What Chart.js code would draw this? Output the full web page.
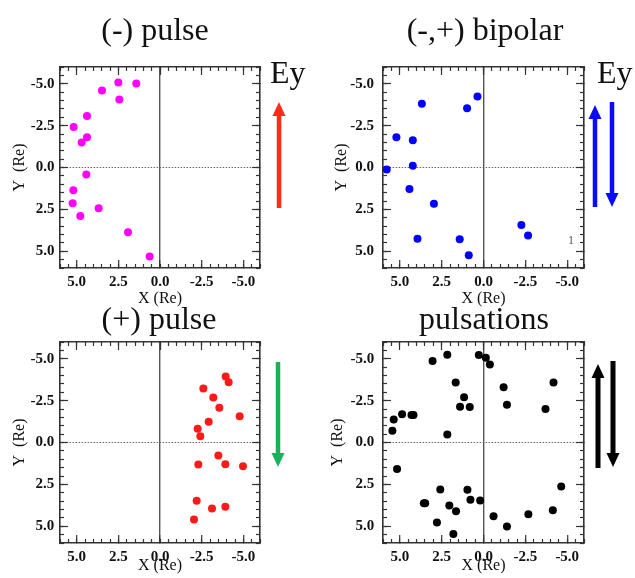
<!DOCTYPE html>
<html>
<head>
<meta charset="utf-8">
<script src="https://cdn.jsdelivr.net/npm/chart.js@4.4.0/dist/chart.umd.min.js"></script>
<style>
  body { margin: 0; background: #fff; }
  #wrap { position: relative; width: 635px; height: 578px; overflow: hidden; font-family: 'Liberation Serif', 'DejaVu Serif', serif; color: #111; }
  canvas { position: absolute; }
  .title { position: absolute; width: 300px; text-align: center; font-size: 32px; line-height: 32px; white-space: nowrap; }
  .ey { position: absolute; font-size: 32px; line-height: 32px; }
  .note { position: absolute; font-size: 12px; line-height: 12px; color: #555; }
</style>
</head>
<body>
<div id="wrap">
  <canvas id="negPulse" width="317" height="312" style="left:0;top:0"></canvas>
  <canvas id="bipolar" width="317" height="312" style="left:318px;top:0"></canvas>
  <canvas id="posPulse" width="317" height="289" style="left:0;top:289px"></canvas>
  <canvas id="pulsations" width="317" height="289" style="left:318px;top:289px"></canvas>

  <div class="title" style="left:5px;top:13px">(-) pulse</div>
  <div class="title" style="left:335px;top:13px">(-,+) bipolar</div>
  <div class="title" style="left:9px;top:302px">(+) pulse</div>
  <div class="title" style="left:334px;top:302px">pulsations</div>
  <div class="ey" style="left:270px;top:56px">Ey</div>
  <div class="ey" style="left:597px;top:56px">Ey</div>
  <div class="note" style="left:568px;top:234px">1</div>
</div>

<script>
// axis ticks (X runs 5 -> -5 left to right, Y runs -5 -> 5 top to bottom)
const xTickValues = [5.0, 2.5, 0.0, -2.5, -5.0];
const yTickValues = [-5.0, -2.5, 0.0, 2.5, 5.0];

// (-) pulse
const negPulseX = [2.5, 1.42, 3.48, 2.44, 4.38, 5.18, 4.38, 4.7, 4.42, 5.2, 5.24, 3.68, 4.78, 1.92, 0.62];
const negPulseY = [-5.08, -5.02, -4.6, -4.06, -3.08, -2.42, -1.8, -1.5, 0.42, 1.36, 2.14, 2.44, 2.9, 3.86, 5.32];

// (-,+) bipolar
const bipolarX = [0.36, 0.98, 3.68, 5.2, 4.22, 4.22, 5.78, 4.42, 2.96, 3.94, 1.42, 0.88, -2.26, -2.66];
const bipolarY = [-4.24, -3.54, -3.8, -1.8, -1.62, -0.1, 0.12, 1.28, 2.16, 4.26, 4.28, 5.24, 3.44, 4.06];

// (+) pulse
const posPulseX = [-3.94, -4.12, -2.6, -3.2, -3.56, -4.78, -2.92, -2.26, -2.42, -3.5, -3.92, -4.98, -2.3, -2.2, -3.12, -3.92, -2.04];
const posPulseY = [-3.94, -3.6, -3.22, -2.68, -2.08, -1.56, -1.24, -0.82, -0.38, 0.78, 1.3, 1.42, 1.32, 3.48, 3.94, 3.84, 4.6];

// pulsations
const pulsX = [3.04, 2.16, 0.28, -0.14, -0.38, 1.66, -1.2, -4.18, 1.16, 1.4, 0.82, -1.4, -3.7, 4.86, 5.36, 4.3, 4.18, 5.44, 2.16, 5.16,
               2.58, 0.96, 3.56, 3.48, 2.04, 0.78, 0.2, 1.64, 2.78, 1.8, -0.6, -1.4, -2.68, -4.14, -4.64];
const pulsY = [-4.86, -5.24, -5.22, -5.06, -4.66, -3.58, -3.3, -3.58, -2.7, -2.14, -2.12, -2.26, -2.0, -1.68, -1.38, -1.64, -1.64, -0.7, -0.48, 1.58,
               2.8, 2.82, 3.62, 3.62, 3.76, 3.42, 3.46, 4.1, 4.78, 5.46, 4.4, 5.02, 4.28, 4.04, 2.62];

const SERIF = "'Liberation Serif', 'DejaVu Serif', serif";
const INK = '#333';

function setTicks(values) {
  return scale => { scale.ticks = values.map(v => ({ value: v })); };
}

function buildScales(g) {
  const base = { type: 'linear', min: -6, max: 6, reverse: true };
  const labelFont = { family: SERIF, size: 15, weight: 'bold' };
  const titleFont = { family: SERIF, size: 16, lineHeight: 1.2 };
  const majorGrid = { drawOnChartArea: false, tickLength: -8, tickColor: INK, tickWidth: 1.2 };
  const minorGrid = { drawOnChartArea: false, tickLength: -4, tickColor: INK, tickWidth: 1.2 };
  const frame = { color: INK, width: 1.6 };
  const hidden = { display: false };
  const isZero = c => c.tick && c.tick.value === 0;

  return {
    x: {
      ...base, position: 'bottom', weight: 1,
      afterBuildTicks: setTicks(xTickValues),
      afterFit: s => { s.height = g.xh; },
      grid: { drawOnChartArea: true, color: c => isZero(c) ? '#555' : 'rgba(0,0,0,0)', lineWidth: 1.4,
              tickLength: -8, tickColor: INK, tickWidth: 1.2 },
      border: frame,
      ticks: { font: labelFont, color: '#111', padding: g.xlp, autoSkip: false, maxRotation: 0,
               callback: v => v.toFixed(1) },
      title: { display: true, text: 'X (Re)', font: titleFont, color: '#111', padding: { top: 0, bottom: g.xtp } }
    },
    xMinor: { ...base, position: 'bottom', weight: 0, afterFit: s => { s.height = 0; },
              ticks: { display: false, stepSize: 0.5 }, grid: minorGrid, border: hidden },
    xTop: { ...base, position: 'top', weight: 0, afterBuildTicks: setTicks(xTickValues), afterFit: s => { s.height = 0; },
            ticks: { display: false }, grid: majorGrid, border: frame },
    xTopMinor: { ...base, position: 'top', weight: 1, afterFit: s => { s.height = 0; },
                 ticks: { display: false, stepSize: 0.5 }, grid: minorGrid, border: hidden },
    y: {
      ...base, position: 'left', weight: 1,
      afterBuildTicks: setTicks(yTickValues),
      afterFit: s => { s.width = g.yw; },
      grid: { drawOnChartArea: true, color: c => isZero(c) ? '#666' : 'rgba(0,0,0,0)', lineWidth: 1,
              tickLength: -8, tickColor: INK, tickWidth: 1.2 },
      border: { color: INK, width: 1.6, dash: [1.5, 1.5] },
      ticks: { font: labelFont, color: '#111', padding: g.ylp, autoSkip: false,
               callback: v => v.toFixed(1) },
      title: { display: true, text: 'Y  (Re)', font: titleFont, color: '#111', padding: { top: g.ytp, bottom: 0 } }
    },
    yMinor: { ...base, position: 'left', weight: 0, afterFit: s => { s.width = 0; },
              ticks: { display: false, stepSize: 0.5 }, grid: minorGrid, border: hidden },
    yRight: { ...base, position: 'right', weight: 0, afterBuildTicks: setTicks(yTickValues), afterFit: s => { s.width = 0; },
              ticks: { display: false }, grid: majorGrid, border: frame },
    yRightMinor: { ...base, position: 'right', weight: 1, afterFit: s => { s.width = 0; },
                   ticks: { display: false, stepSize: 0.5 }, grid: minorGrid, border: hidden }
  };
}

// Ey arrows drawn beside each panel
function arrowPlugin(arrows) {
  return {
    id: 'eyArrows',
    afterDraw(chart) {
      const ctx = chart.ctx;
      ctx.save();
      arrows.forEach(a => {
        const dir = a.tip < a.tail ? -1 : 1;
        const headLen = 14, half = 6.5;
        const base = a.tip - dir * headLen;
        ctx.fillStyle = a.color;
        ctx.fillRect(a.x - a.w / 2, Math.min(a.tail, base), a.w, Math.abs(base - a.tail));
        ctx.beginPath();
        ctx.moveTo(a.x, a.tip);
        ctx.lineTo(a.x - half, base);
        ctx.lineTo(a.x + half, base);
        ctx.closePath();
        ctx.fill();
      });
      ctx.restore();
    }
  };
}

function makePanel(id, xs, ys, color, g, arrows) {
  const points = xs.map((x, i) => ({ x: x, y: ys[i] }));
  return new Chart(document.getElementById(id), {
    type: 'scatter',
    data: {
      datasets: [{
        data: points,
        backgroundColor: color,
        borderWidth: 0,
        pointRadius: 4,
        xAxisID: 'x',
        yAxisID: 'y'
      }]
    },
    options: {
      responsive: false,
      animation: false,
      events: [],
      layout: { padding: { left: 0, top: g.top, right: g.right, bottom: 0 } },
      plugins: { legend: { display: false }, tooltip: { enabled: false } },
      scales: buildScales(g)
    },
    plugins: [arrowPlugin(arrows)]
  });
}

makePanel('negPulse', negPulseX, negPulseY, '#ff00ff',
  { top: 67, right: 57, xh: 44, yw: 60, xlp: 13, xtp: 3.4, ylp: 13.5, ytp: 10.4 },
  [{ x: 279, tail: 208, tip: 102, color: '#ff2a1a', w: 4.5 }]);

makePanel('bipolar', bipolarX, bipolarY, '#0000ff',
  { top: 67, right: 51, xh: 44, yw: 65, xlp: 13, xtp: 3.4, ylp: 17, ytp: 14.4 },
  [{ x: 277, tail: 207, tip: 105, color: '#0a0aff', w: 4.5 },
   { x: 294, tail: 102, tip: 207, color: '#0a0aff', w: 4.5 }]);

makePanel('posPulse', posPulseX, posPulseY, '#ff1a1a',
  { top: 53, right: 57, xh: 35, yw: 60, xlp: 12.7, xtp: 2.4, ylp: 13.7, ytp: 10.4 },
  [{ x: 278, tail: 73, tip: 178, color: '#19b259', w: 4.5 }]);

makePanel('pulsations', pulsX, pulsY, '#000000',
  { top: 53, right: 51, xh: 35, yw: 65, xlp: 12.7, xtp: 2.4, ylp: 16.7, ytp: 10.4 },
  [{ x: 280, tail: 179, tip: 75, color: '#000000', w: 5 },
   { x: 295, tail: 72, tip: 178, color: '#000000', w: 5 }]);
</script>
</body>
</html>
